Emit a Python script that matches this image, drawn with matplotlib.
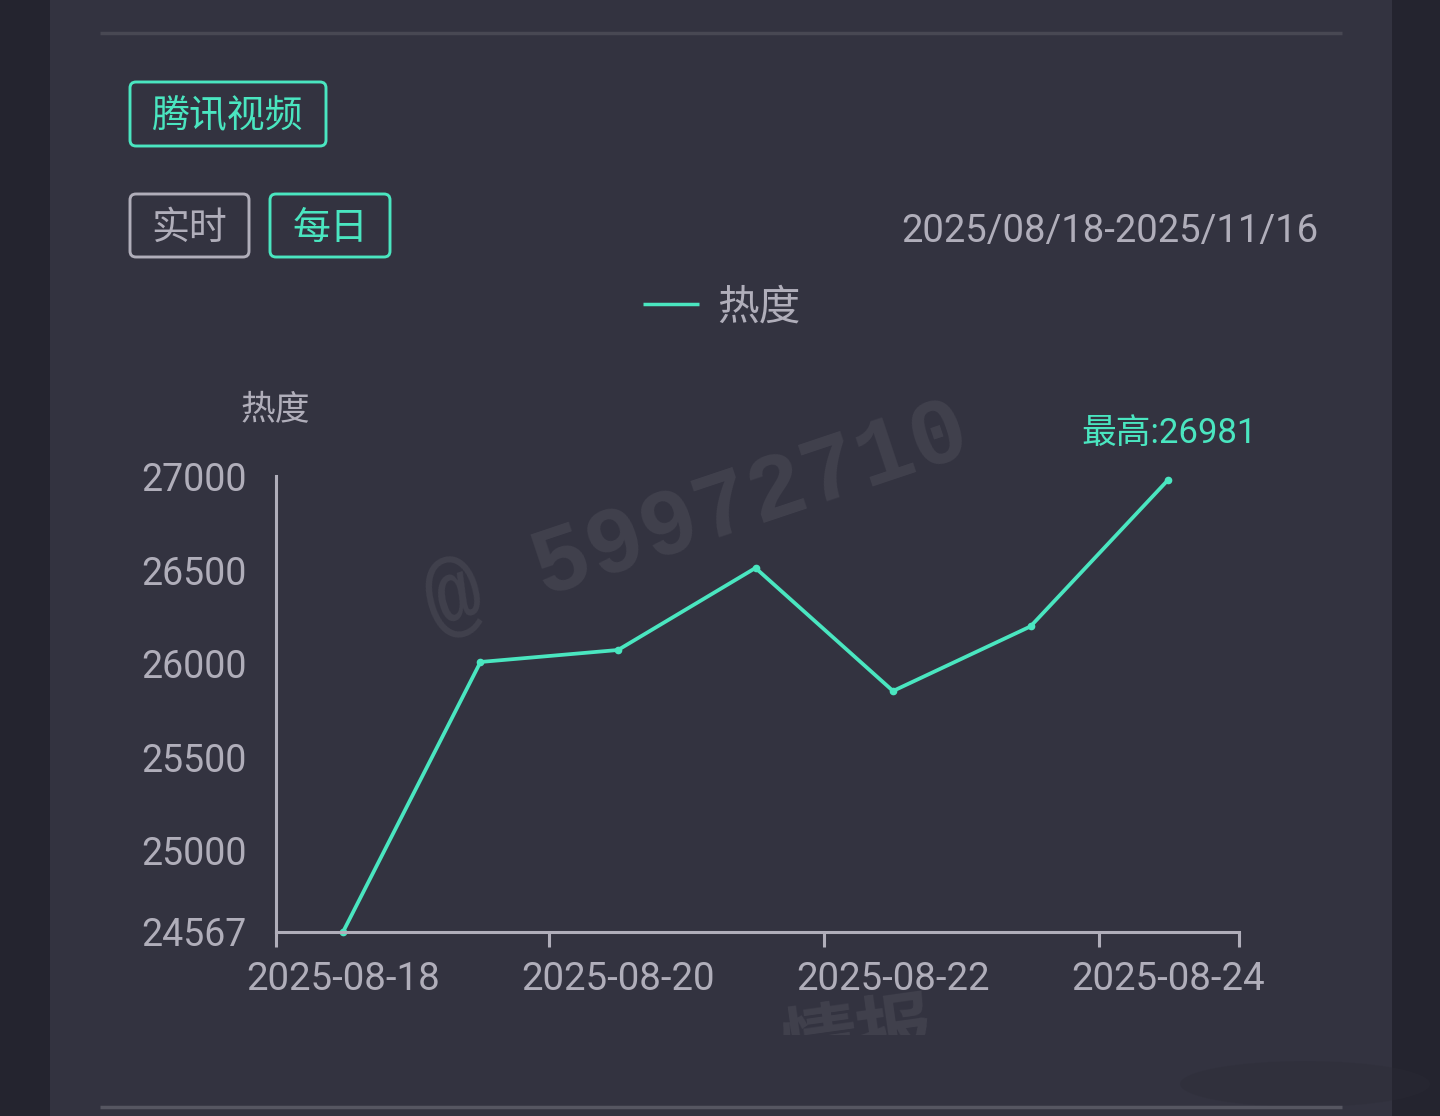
import matplotlib
matplotlib.use("Agg")
import matplotlib.pyplot as plt
from matplotlib.patches import FancyBboxPatch, Rectangle, Ellipse

plt.rcParams['font.family'] = ['Roboto', 'Noto Sans CJK SC', 'DejaVu Sans']

WIDTH, HEIGHT = 1440, 1116
OUTER = '#24242f'
CARD = '#333340'
GREEN = '#4ae6c0'
GREY = '#b0aeba'
WATERMARK = '#41414d'

categories = ['2025-08-18', '2025-08-19', '2025-08-20', '2025-08-21',
              '2025-08-22', '2025-08-23', '2025-08-24']
heat = [24567, 26009, 26073, 26511, 25854, 26199, 26981]
y_ticks = [24567, 25000, 25500, 26000, 26500, 27000]
platform = '腾讯视频'
date_range = '2025/08/18-2025/11/16'
series_name = '热度'


def button(bg, x0, y0, x1, y1, label, color):
    bg.add_patch(FancyBboxPatch((x0 + 5, y0 + 5), x1 - x0 - 10, y1 - y0 - 10,
                                boxstyle='round,pad=5,rounding_size=6',
                                fc='none', ec=color, lw=2.1))
    bg.text((x0 + x1) / 2, (y0 + y1) / 2 - 1, label, color=color, fontsize=27.3,
            weight='medium', ha='center', va='center_baseline')


def draw_page(fig):
    bg = fig.add_axes([0, 0, 1, 1], zorder=0)
    bg.set_xlim(0, WIDTH)
    bg.set_ylim(HEIGHT, 0)
    bg.axis('off')
    bg.add_patch(Rectangle((0, 0), WIDTH, HEIGHT, fc=OUTER, ec='none'))
    bg.add_patch(Rectangle((50, 0), 1342, HEIGHT, fc=CARD, ec='none'))
    bg.plot([100, 1342], [33, 33], color='#484853', lw=2.5, solid_capstyle='butt')
    bg.plot([100, 1342], [1107, 1107], color='#565661', lw=2.5, solid_capstyle='butt')

    # watermarks behind the chart
    bg.text(697, 519, '@ 59972710', color=WATERMARK, fontsize=68, weight='bold',
            family=['Liberation Mono'], rotation=18.5, rotation_mode='anchor',
            ha='center', va='center')
    wm = bg.text(858, 1042, '情报', color=WATERMARK, fontsize=55, weight='bold',
                 rotation=8, ha='center', va='center')
    wm.set_clip_path(Rectangle((700, 990), 300, 45, transform=bg.transData))
    wm.set_clip_on(True)
    bg.add_patch(Ellipse((1305, 1084), 250, 46, fc='#2c2c36', ec='none', alpha=0.3))

    button(bg, 130, 82, 326, 146, platform, GREEN)
    button(bg, 130, 194, 249, 257, '实时', GREY)
    button(bg, 270, 194, 390, 257, '每日', GREEN)
    bg.text(1318, 231, date_range, color=GREY, fontsize=27.5, ha='right', va='center')

    bg.plot([643, 699], [304, 304], color=GREEN, lw=2.5, solid_capstyle='butt')
    bg.text(759, 308, series_name, color=GREY, fontsize=30, ha='center', va='center')
    bg.text(275, 411, series_name, color=GREY, fontsize=25, ha='center', va='center')


def draw_chart(fig):
    left, right, top, bottom = 276, 1239, 476.4, 932
    ax = fig.add_axes([left / WIDTH, 1 - bottom / HEIGHT,
                       (right - left) / WIDTH, (bottom - top) / HEIGHT], zorder=1)
    ax.patch.set_alpha(0)
    x = list(range(len(categories)))
    ax.plot(x, heat, color=GREEN, lw=2.7, marker='o', ms=4.5, clip_on=False)
    ax.set_xlim(-0.487, 6.516)
    ax.set_ylim(y_ticks[0], y_ticks[-1])

    for side in ['top', 'right']:
        ax.spines[side].set_visible(False)
    for side in ['left', 'bottom']:
        ax.spines[side].set_color(GREY)
        ax.spines[side].set_linewidth(2.2)

    # tick marks sit between the labelled categories
    ax.set_xticks([-0.487, 1.5, 3.5, 5.5, 6.516])
    ax.set_xticklabels([])
    ax.tick_params(axis='x', which='major', length=11, width=2.2, color=GREY)
    ax.set_xticks(x[::2], minor=True)
    ax.set_xticklabels(categories[::2], minor=True)
    ax.tick_params(axis='x', which='minor', length=0, pad=21, labelsize=27.7,
                   labelcolor=GREY)

    ax.set_yticks(y_ticks)
    ax.tick_params(axis='y', length=0, pad=21, labelsize=27, labelcolor=GREY)

    ax.annotate('最高:%d' % max(heat), (6, max(heat)), xytext=(1, 46),
                textcoords='offset pixels', color=GREEN, fontsize=25,
                ha='center', va='center', annotation_clip=False)


def main():
    fig = plt.figure(figsize=(WIDTH / 100, HEIGHT / 100), dpi=100)
    draw_page(fig)
    draw_chart(fig)
    fig.savefig('out.png', dpi=100)


if __name__ == "__main__":
    main()
